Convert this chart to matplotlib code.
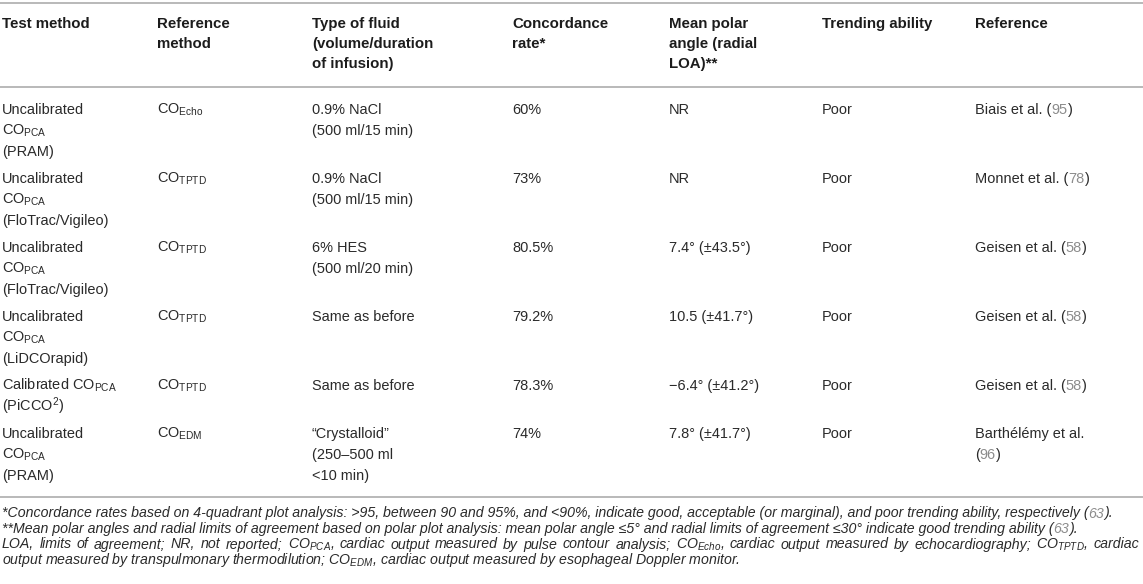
import matplotlib
matplotlib.use('Agg')
import matplotlib.pyplot as plt
from matplotlib import font_manager

plt.rcParams['font.family'] = ['Liberation Sans', 'DejaVu Sans']
plt.rcParams['mathtext.fontset'] = 'custom'
plt.rcParams['mathtext.rm'] = 'Liberation Sans'
plt.rcParams['mathtext.it'] = 'Liberation Sans:italic'
plt.rcParams['mathtext.bf'] = 'Liberation Sans:bold'

installed = {f.name for f in font_manager.fontManager.ttflist}
NARROW = 'Liberation Sans Narrow' if 'Liberation Sans Narrow' in installed else 'Liberation Sans'

PCA = "CO$_{\\mathrm{PCA}}$"
ECHO = "CO$_{\\mathrm{Echo}}$"
TPTD = "CO$_{\\mathrm{TPTD}}$"
EDM = "CO$_{\\mathrm{EDM}}$"

# table content ("|" toggles grey citation colour)
headers = [["Test method"], ["Reference", "method"],
           ["Type of fluid", "(volume/duration", "of infusion)"],
           ["Concordance", "rate*"], ["Mean polar", "angle (radial", "LOA)**"],
           ["Trending ability"], ["Reference"]]

test_method = [["Uncalibrated", PCA, "(PRAM)"],
               ["Uncalibrated", PCA, "(FloTrac/Vigileo)"],
               ["Uncalibrated", PCA, "(FloTrac/Vigileo)"],
               ["Uncalibrated", PCA, "(LiDCOrapid)"],
               ["Calibrated " + PCA, "(PiCCO$^{\\mathrm{2}}$)"],
               ["Uncalibrated", PCA, "(PRAM)"]]
ref_method = [[ECHO], [TPTD], [TPTD], [TPTD], [TPTD], [EDM]]
fluid = [["0.9% NaCl", "(500 ml/15 min)"],
         ["0.9% NaCl", "(500 ml/15 min)"],
         ["6% HES", "(500 ml/20 min)"],
         ["Same as before"],
         ["Same as before"],
         ["\u201cCrystalloid\u201d", "(250\u2013500 ml", "<10 min)"]]
concordance = ["60%", "73%", "80.5%", "79.2%", "78.3%", "74%"]
polar_angle = ["NR", "NR", "7.4\u00b0 (\u00b143.5\u00b0)", "10.5 (\u00b141.7\u00b0)",
               "\u22126.4\u00b0 (\u00b141.2\u00b0)", "7.8\u00b0 (\u00b141.7\u00b0)"]
trending = ["Poor", "Poor", "Poor", "Poor", "Poor", "Poor"]
reference = [["Biais et al. (|95|)"], ["Monnet et al. (|78|)"],
             ["Geisen et al. (|58|)"], ["Geisen et al. (|58|)"],
             ["Geisen et al. (|58|)"], ["Barth\u00e9l\u00e9my et al.", "(|96|)"]]

footnotes = [
    "*Concordance rates based on 4-quadrant plot analysis: >95, between 90 and 95%, and <90%, "
    "indicate good, acceptable (or marginal), and poor trending ability, respectively (|63|).",
    "**Mean polar angles and radial limits of agreement based on polar plot analysis: mean polar "
    "angle \u22645\u00b0 and radial limits of agreement \u226430\u00b0 indicate good trending ability (|63|).",
    "LOA, limits of agreement; NR, not reported; CO$_{\\mathit{PCA}}$, cardiac output measured by pulse "
    "contour analysis; CO$_{\\mathit{Echo}}$, cardiac output measured by echocardiography; "
    "CO$_{\\mathit{TPTD}}$, cardiac",
    "output measured by transpulmonary thermodilution; CO$_{\\mathit{EDM}}$, cardiac output measured "
    "by esophageal Doppler monitor.",
]

INK = '#2a2a2a'
HEAD = '#1c1c1c'
GREY = '#8c8c8c'
RULE = '#b3b3b3'

W, H = 1143, 584
col_x = [2, 157, 312, 512, 669, 822, 975]

fig = plt.figure(figsize=(W / 100, H / 100), dpi=100)
ax = fig.add_axes([0, 0, 1, 1])
ax.set_xlim(0, W)
ax.set_ylim(H, 0)
ax.axis('off')
renderer = fig.canvas.get_renderer()


def px(v):
    return v * 72 / 100


def draw_runs(x, y, text, size, **kw):
    parts = text.split('|')
    for i, part in enumerate(parts):
        if not part:
            continue
        t = ax.text(x, y, part, fontsize=size, color=GREY if i % 2 else kw.get('color', INK),
                    ha='left', va='baseline',
                    **{k: v for k, v in kw.items() if k != 'color'})
        x += t.get_window_extent(renderer).width
    return x


def draw_justified(x, y, text, size, right, **kw):
    words = text.split(' ')
    texts = [ax.text(0, y, w, fontsize=size, color=INK, ha='left', va='baseline', **kw)
             for w in words]
    widths = [t.get_window_extent(renderer).width for t in texts]
    gap = (right - x - sum(widths)) / (len(words) - 1)
    for t, w in zip(texts, widths):
        t.set_x(x)
        x += w + gap


body = px(14.5)
head = px(15)

# rules
for yy in [3, 87, 497]:
    ax.plot([0, W], [yy, yy], color=RULE, lw=1.3, solid_capstyle='butt')

# header
for cx, lines in zip(col_x, headers):
    for k, line in enumerate(lines):
        draw_runs(cx, 28 + k * 20, line, head, fontweight='bold', color=HEAD)

# body rows
y0 = 109
for r in range(len(test_method)):
    cells = [test_method[r], ref_method[r], fluid[r], [concordance[r]],
             [polar_angle[r]], [trending[r]], reference[r]]
    for cx, lines in zip(col_x, cells):
        for k, line in enumerate(lines):
            draw_runs(cx, y0 + 5 + k * 21, line, body)
    nl = max(len(c) for c in cells)
    y0 += nl * 21 + 6

# footnotes, sized so the first line ends where the reference does
fn_family = [NARROW, 'Liberation Sans']
probe = ax.text(0, 0, footnotes[0].replace('|', ''), fontsize=10, family=fn_family, style='italic')
fn_size = 10 * 1119 / probe.get_window_extent(renderer).width
probe.remove()
for k, line in enumerate(footnotes):
    yb = 517.5 + k * 15.5
    if k == 2:
        draw_justified(2, yb, line, fn_size, 1139, family=fn_family, style='italic')
    else:
        draw_runs(2, yb, line, fn_size, family=fn_family, style='italic')

fig.savefig('out.png', dpi=100)
